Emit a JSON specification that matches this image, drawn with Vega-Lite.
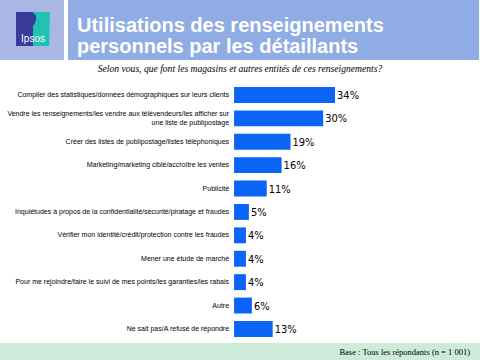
{
  "$schema": "https://vega.github.io/schema/vega-lite/v6.json",
  "padding": 0,
  "background": "white",
  "spacing": 0,
  "config": {"view": {"stroke": null}, "concat": {"spacing": 0}},
  "vconcat": [
    {
      "width": 480,
      "height": 60,
      "view": {"fill": "#ffffff", "stroke": null},
      "data": {"values": [{"brand": "Ipsos", "t": "Utilisations des renseignements|personnels par les détaillants"}]},
      "layer": [
        {"mark": {"type": "point", "filled": true, "shape": "M-1,-0.125H-0.7333V0.125H-1Z", "size": 230400, "color": "#A9B7E4", "opacity": 1, "strokeWidth": 0}, "encoding": {}},
        {"mark": {"type": "point", "filled": true, "shape": "M-0.7167,-0.125H0.996V0.125H-0.7167Z", "size": 230400, "color": "#8FACE4", "opacity": 1, "strokeWidth": 0}, "encoding": {}},
        {"mark": {"type": "point", "filled": true, "shape": "M-0.9333,-0.075H-0.8625V0.0667H-0.9333Z", "size": 230400, "color": "#3A3A98", "opacity": 1, "strokeWidth": 0}, "encoding": {}},
        {"mark": {"type": "point", "filled": true, "shape": "M-0.8625,-0.075H-0.7917L-0.795,0.0667H-0.8625Z", "size": 230400, "color": "#22C2B2", "opacity": 1, "strokeWidth": 0}, "encoding": {}},
        {"mark": {"type": "point", "filled": true, "shape": "M-0.8708,-0.0708C-0.8542,-0.0729 -0.8458,-0.0583 -0.85,-0.0458L-0.8542,-0.0292L-0.8625,-0.0167L-0.8625,-0.0042L-0.8708,-0.0042Z", "size": 230400, "color": "#3A3A98", "opacity": 1, "strokeWidth": 0}, "encoding": {}},
        {"mark": {"type": "text", "color": "white", "fontSize": 10, "font": "Liberation Sans", "dx": -207, "dy": 9}, "encoding": {"text": {"field": "brand"}}},
        {"mark": {"type": "text", "align": "left", "baseline": "top", "lineBreak": "|", "color": "white", "font": "Liberation Sans", "fontWeight": "bold", "fontSize": 20, "lineHeight": 21, "dx": -163, "dy": -14}, "encoding": {"text": {"field": "t"}}}
      ]
    },
    {
      "width": 480,
      "height": 264,
      "title": {"text": ["", "Selon vous, que font les magasins et autres entités de ces renseignements?"], "lineHeight": 4, "font": "Liberation Serif", "fontStyle": "italic", "fontSize": 9.6, "fontWeight": "normal", "color": "black", "anchor": "middle", "frame": "group", "offset": 5},
      "data": {"values": [
        {"cat": "Compiler des statistiques/données démographiques sur leurs clients", "p": 0.34},
        {"cat": "Vendre les renseignements/les vendre aux télévendeurs/les afficher sur|une liste de publipostage", "p": 0.30},
        {"cat": "Créer des listes de publipostage/listes téléphoniques", "p": 0.19},
        {"cat": "Marketing/marketing ciblé/accroître les ventes", "p": 0.16},
        {"cat": "Publicité", "p": 0.11},
        {"cat": "Inquiétudes à propos de la confidentialité/sécurité/piratage et fraudes", "p": 0.05},
        {"cat": "Vérifier mon identité/crédit/protection contre les fraudes", "p": 0.04},
        {"cat": "Mener une étude de marché", "p": 0.04},
        {"cat": "Pour me rejoindre/faire le suivi de mes points/les garanties/les rabais", "p": 0.04},
        {"cat": "Autre", "p": 0.06},
        {"cat": "Ne sait pas/A refusé de répondre", "p": 0.13}
      ]},
      "encoding": {
        "y": {"field": "cat", "type": "nominal", "sort": null, "axis": null, "scale": {"paddingInner": 0.32, "paddingOuter": 0.301, "align": 0.567}}
      },
      "layer": [
        {"mark": {"type": "bar", "color": "#0A64F6"}, "encoding": {"x": {"field": "p", "type": "quantitative", "scale": {"domain": [-0.788, 0.828], "nice": false, "zero": false}, "axis": null}}},
        {"mark": {"type": "text", "align": "left", "baseline": "middle", "dx": 2, "dy": 1, "font": "Liberation Sans Narrow, DejaVu Sans Condensed, Liberation Sans", "fontSize": 11, "color": "black"}, "encoding": {"x": {"field": "p", "type": "quantitative"}, "text": {"field": "p", "type": "quantitative", "format": ".0%"}}},
        {"transform": [{"filter": "indexof(datum.cat, '|') < 0"}], "mark": {"type": "text", "align": "right", "baseline": "middle", "dx": -5, "font": "Liberation Sans", "fontSize": 7, "color": "black"}, "encoding": {"x": {"datum": 0}, "text": {"field": "cat"}}},
        {"transform": [{"filter": "indexof(datum.cat, '|') >= 0"}], "mark": {"type": "text", "align": "right", "baseline": "middle", "dx": -5, "dy": -4.5, "lineBreak": "|", "font": "Liberation Sans", "fontSize": 7, "lineHeight": 9, "color": "black"}, "encoding": {"x": {"datum": 0}, "text": {"field": "cat"}}}
      ]
    },
    {
      "width": 480,
      "height": 17,
      "view": {"fill": "#CDEBDB", "stroke": null},
      "data": {"values": [{"base": "Base : Tous les répondants (n = 1 001)"}]},
      "mark": {"type": "text", "align": "right", "baseline": "middle", "font": "Liberation Serif", "fontSize": 8.5, "dx": -10, "color": "black"},
      "encoding": {"x": {"value": "width"}, "text": {"field": "base"}}
    }
  ]
}
